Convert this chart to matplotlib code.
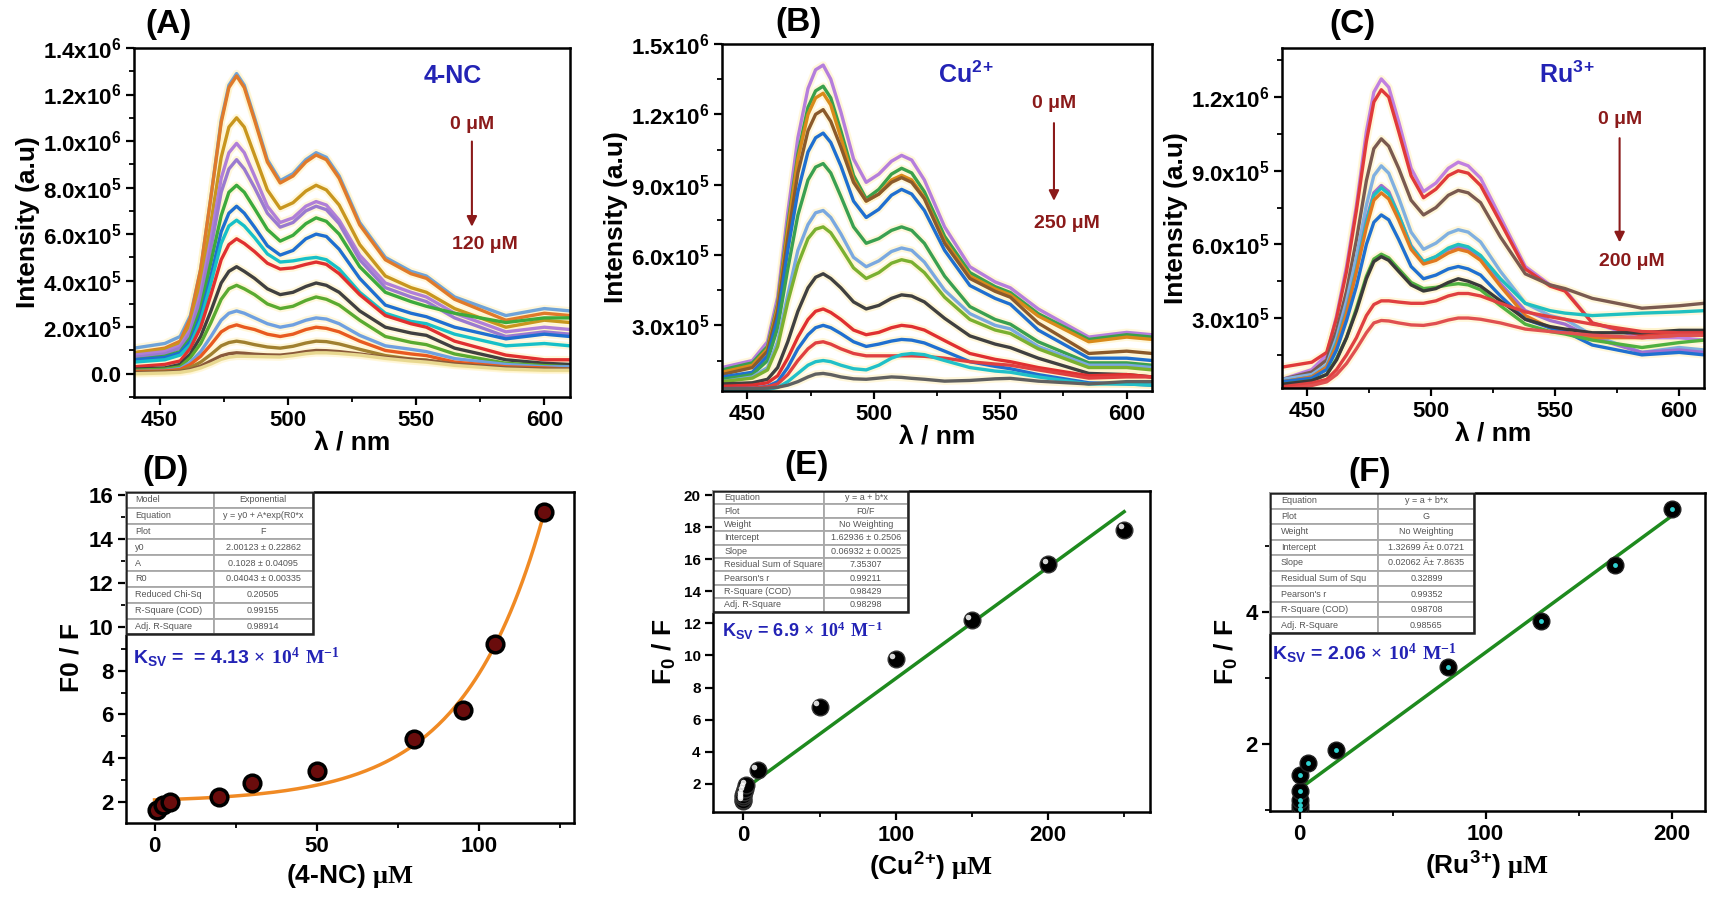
"""
Fluorescence quenching of the probe by 4-NC, Cu2+ and Ru3+
"""
import numpy as np
import matplotlib.pyplot as plt
from matplotlib.ticker import AutoMinorLocator, MultipleLocator
from matplotlib.transforms import offset_copy

plt.rcParams['font.family'] = ['Liberation Sans', 'DejaVu Sans']
plt.rcParams['font.weight'] = 'bold'
plt.rcParams['axes.labelweight'] = 'bold'
plt.rcParams['mathtext.default'] = 'regular'
plt.rcParams['mathtext.fontset'] = 'custom'
plt.rcParams['mathtext.rm'] = 'Liberation Serif'

FIG_W, FIG_H = 1719, 897

# emission spectra, intensity in units of 1e5
WAVELENGTH = [440, 452, 458, 462, 466, 470, 474, 477, 480, 483, 487, 492, 497,
              502, 507, 511, 515, 520, 528, 538, 548, 554, 565, 585, 600, 610]

SPEC_A = [
    [1.1, 1.3, 1.6, 2.5, 4.5, 7.6, 10.9, 12.4, 12.9, 12.4, 11.0, 9.2, 8.3, 8.6, 9.2, 9.5, 9.3, 8.5, 6.5, 5.0, 4.4, 4.2, 3.3, 2.5, 2.8, 2.7],
    [0.9, 1.1, 1.4, 2.4, 4.5, 7.6, 10.8, 12.3, 12.8, 12.3, 10.9, 9.1, 8.2, 8.5, 9.1, 9.4, 9.2, 8.4, 6.4, 4.9, 4.3, 4.1, 3.2, 2.3, 2.6, 2.5],
    [0.9, 1.05, 1.3, 2.1, 3.9, 6.5, 9.3, 10.6, 11.0, 10.6, 9.4, 7.9, 7.1, 7.35, 7.85, 8.1, 7.9, 7.25, 5.55, 4.2, 3.7, 3.5, 2.8, 2.0, 2.3, 2.2],
    [0.8, 0.95, 1.2, 1.9, 3.5, 5.8, 8.4, 9.5, 9.9, 9.5, 8.5, 7.2, 6.5, 6.7, 7.2, 7.4, 7.25, 6.6, 5.1, 3.9, 3.5, 3.3, 2.6, 1.8, 2.0, 1.9],
    [0.7, 0.85, 1.1, 1.75, 3.2, 5.4, 7.8, 8.8, 9.2, 8.8, 8.0, 6.9, 6.3, 6.5, 7.0, 7.2, 7.05, 6.45, 4.9, 3.7, 3.3, 3.1, 2.4, 1.6, 1.8, 1.7],
    [0.6, 0.75, 0.95, 1.55, 2.8, 4.8, 6.8, 7.8, 8.1, 7.8, 7.1, 6.2, 5.7, 5.95, 6.45, 6.7, 6.55, 6.0, 4.6, 3.5, 3.1, 2.9, 2.6, 2.2, 2.4, 2.4],
    [0.6, 0.7, 0.9, 1.4, 2.5, 4.2, 6.1, 6.9, 7.2, 6.9, 6.3, 5.5, 5.1, 5.3, 5.8, 6.0, 5.9, 5.35, 4.1, 2.95, 2.6, 2.45, 2.0, 1.5, 1.7, 1.6],
    [0.5, 0.6, 0.8, 1.25, 2.3, 3.9, 5.6, 6.35, 6.6, 6.35, 5.85, 5.15, 4.8, 4.85, 4.95, 5.0, 4.9, 4.5, 3.5, 2.6, 2.25, 2.15, 1.7, 1.2, 1.3, 1.2],
    [0.3, 0.4, 0.55, 1.1, 2.0, 3.4, 4.9, 5.55, 5.8, 5.6, 5.25, 4.75, 4.5, 4.55, 4.7, 4.8, 4.7, 4.3, 3.4, 2.5, 2.15, 2.0, 1.4, 0.8, 0.6, 0.6],
    [0.2, 0.25, 0.4, 0.85, 1.6, 2.7, 3.9, 4.4, 4.6, 4.4, 4.1, 3.65, 3.4, 3.5, 3.75, 3.9, 3.8, 3.5, 2.7, 2.0, 1.75, 1.65, 1.1, 0.6, 0.45, 0.4],
    [0.15, 0.2, 0.3, 0.7, 1.3, 2.2, 3.2, 3.65, 3.8, 3.65, 3.4, 3.0, 2.8, 2.9, 3.15, 3.3, 3.2, 2.95, 2.3, 1.6, 1.35, 1.25, 0.85, 0.45, 0.35, 0.3],
    [0.1, 0.14, 0.22, 0.5, 0.95, 1.6, 2.3, 2.6, 2.7, 2.6, 2.4, 2.15, 2.0, 2.1, 2.3, 2.4, 2.35, 2.15, 1.65, 1.2, 1.05, 0.95, 0.65, 0.4, 0.3, 0.3],
    [0.1, 0.12, 0.18, 0.4, 0.75, 1.25, 1.8, 2.0, 2.1, 2.0, 1.9, 1.7, 1.6, 1.7, 1.9, 2.0, 1.95, 1.8, 1.4, 1.0, 0.85, 0.78, 0.5, 0.3, 0.25, 0.2],
    [0.05, 0.08, 0.12, 0.27, 0.5, 0.83, 1.2, 1.34, 1.4, 1.35, 1.25, 1.15, 1.1, 1.18, 1.32, 1.4, 1.38, 1.28, 1.05, 0.78, 0.63, 0.58, 0.4, 0.25, 0.2, 0.2],
    [0.05, 0.07, 0.1, 0.18, 0.33, 0.55, 0.77, 0.86, 0.9, 0.88, 0.84, 0.81, 0.8, 0.86, 0.95, 1.0, 0.99, 0.95, 0.85, 0.7, 0.62, 0.58, 0.42, 0.25, 0.2, 0.2],
    [0.0, 0.03, 0.06, 0.13, 0.25, 0.42, 0.62, 0.71, 0.75, 0.75, 0.74, 0.73, 0.72, 0.78, 0.86, 0.9, 0.9, 0.87, 0.8, 0.66, 0.55, 0.5, 0.36, 0.2, 0.15, 0.15],
]
COLORS_A = ['#6fa3d8', '#e07a2a', '#c8961e', '#b07fd8', '#9a7ad0', '#3caa3c', '#1f6fd0', '#17c0c8',
            '#e03030', '#404040', '#5aaa30', '#6fa0e0', '#e85a20', '#a08030', '#8a5a3a', '#e8d890']

SPEC_B = [
    [1.2, 1.5, 2.3, 4.2, 7.8, 11.0, 13.1, 13.9, 14.1, 13.5, 12.1, 10.1, 9.1, 9.45, 10.0, 10.25, 10.05, 9.2, 7.2, 5.5, 4.85, 4.6, 3.7, 2.5, 2.7, 2.6],
    [1.1, 1.4, 2.1, 3.9, 7.3, 10.3, 12.3, 13.0, 13.2, 12.7, 11.3, 9.4, 8.4, 8.8, 9.45, 9.7, 9.5, 8.7, 6.8, 5.25, 4.65, 4.4, 3.5, 2.4, 2.6, 2.5],
    [1.0, 1.3, 2.0, 3.8, 7.1, 10.1, 12.0, 12.7, 12.9, 12.4, 11.0, 9.2, 8.3, 8.6, 9.2, 9.4, 9.2, 8.45, 6.6, 5.1, 4.55, 4.3, 3.4, 2.3, 2.5, 2.4],
    [0.9, 1.2, 1.9, 3.6, 6.7, 9.5, 11.3, 12.0, 12.2, 11.7, 10.6, 9.1, 8.3, 8.6, 9.1, 9.3, 9.1, 8.4, 6.5, 5.0, 4.45, 4.2, 3.1, 1.8, 1.9, 1.8],
    [0.8, 1.0, 1.7, 3.3, 6.2, 8.7, 10.4, 11.0, 11.2, 10.8, 9.8, 8.3, 7.6, 7.95, 8.55, 8.8, 8.6, 7.9, 6.2, 4.7, 4.15, 3.9, 2.8, 1.6, 1.6, 1.5],
    [0.7, 0.9, 1.5, 2.9, 5.4, 7.7, 9.2, 9.75, 9.9, 9.5, 8.5, 7.2, 6.5, 6.7, 7.05, 7.2, 7.05, 6.5, 5.1, 3.8, 3.25, 3.05, 2.3, 1.4, 1.4, 1.3],
    [0.6, 0.8, 1.2, 2.3, 4.3, 6.2, 7.3, 7.8, 7.9, 7.6, 6.9, 5.9, 5.5, 5.75, 6.15, 6.3, 6.2, 5.7, 4.5, 3.5, 3.0, 2.85, 2.1, 1.3, 1.3, 1.2],
    [0.6, 0.75, 1.1, 2.1, 4.0, 5.6, 6.7, 7.1, 7.2, 6.95, 6.3, 5.45, 5.0, 5.25, 5.65, 5.8, 5.7, 5.25, 4.2, 3.25, 2.8, 2.65, 2.0, 1.2, 1.2, 1.1],
    [0.5, 0.55, 0.7, 1.2, 2.3, 3.6, 4.6, 5.05, 5.2, 5.0, 4.6, 4.0, 3.7, 3.85, 4.15, 4.3, 4.25, 4.0, 3.3, 2.55, 2.2, 2.05, 1.6, 0.95, 0.9, 0.8],
    [0.4, 0.45, 0.55, 0.85, 1.6, 2.5, 3.25, 3.6, 3.7, 3.55, 3.25, 2.8, 2.6, 2.7, 2.9, 3.0, 2.95, 2.8, 2.35, 1.8, 1.55, 1.45, 1.2, 0.85, 0.9, 0.8],
    [0.3, 0.32, 0.4, 0.6, 1.2, 2.0, 2.6, 2.9, 3.0, 2.9, 2.65, 2.3, 2.1, 2.2, 2.33, 2.4, 2.37, 2.25, 1.9, 1.45, 1.25, 1.15, 0.9, 0.55, 0.5, 0.45],
    [0.3, 0.32, 0.38, 0.5, 0.9, 1.5, 2.0, 2.25, 2.3, 2.2, 2.0, 1.8, 1.7, 1.7, 1.7, 1.7, 1.7, 1.68, 1.6, 1.45, 1.35, 1.3, 1.1, 0.75, 0.8, 0.8],
    [0.2, 0.22, 0.26, 0.35, 0.6, 0.95, 1.3, 1.45, 1.5, 1.45, 1.3, 1.15, 1.1, 1.3, 1.6, 1.75, 1.8, 1.75, 1.5, 1.2, 1.05, 1.0, 0.8, 0.5, 0.5, 0.45],
    [0.3, 0.3, 0.32, 0.36, 0.45, 0.6, 0.8, 0.92, 0.95, 0.9, 0.8, 0.72, 0.7, 0.75, 0.8, 0.78, 0.74, 0.7, 0.62, 0.65, 0.72, 0.74, 0.62, 0.5, 0.6, 0.6],
]
COLORS_B = ['#b57edc', '#3aa04a', '#d98a1a', '#8b5a2b', '#1f6fd0', '#3aa050', '#7aa8e0', '#7ab030',
            '#404040', '#e03030', '#2070d0', '#e04040', '#20c0c8', '#606060']

SPEC_C = [
    [0.5, 0.9, 1.5, 3.1, 5.1, 7.6, 10.6, 12.2, 12.74, 12.4, 11.0, 9.1, 8.15, 8.5, 9.1, 9.35, 9.2, 8.7, 7.1, 5.1, 4.35, 4.15, 2.8, 2.2, 2.2, 2.1],
    [1.0, 1.2, 1.6, 3.0, 4.9, 7.4, 10.2, 11.8, 12.3, 12.0, 10.6, 8.8, 7.9, 8.25, 8.8, 9.0, 8.9, 8.4, 6.9, 5.0, 4.3, 4.1, 2.8, 2.3, 2.4, 2.4],
    [0.5, 0.8, 1.3, 2.5, 4.1, 6.2, 8.6, 9.9, 10.3, 10.0, 9.1, 7.8, 7.2, 7.5, 8.0, 8.2, 8.1, 7.7, 6.3, 4.8, 4.35, 4.2, 3.8, 3.4, 3.5, 3.6],
    [0.5, 0.7, 1.1, 2.2, 3.7, 5.5, 7.6, 8.8, 9.2, 8.9, 7.9, 6.5, 5.8, 6.05, 6.45, 6.6, 6.5, 6.1, 4.9, 3.6, 3.1, 2.95, 2.3, 1.6, 1.8, 1.7],
    [0.4, 0.6, 1.0, 2.0, 3.4, 5.0, 7.0, 8.1, 8.4, 8.15, 7.2, 5.95, 5.3, 5.5, 5.8, 5.9, 5.8, 5.45, 4.4, 3.3, 2.9, 2.75, 2.2, 1.6, 1.7, 1.6],
    [0.4, 0.6, 1.0, 2.0, 3.3, 5.0, 6.9, 8.0, 8.3, 8.05, 7.2, 5.9, 5.3, 5.5, 5.85, 6.0, 5.9, 5.55, 4.6, 3.6, 3.3, 3.2, 3.1, 3.2, 3.25, 3.3],
    [0.4, 0.6, 1.0, 1.9, 3.2, 4.9, 6.7, 7.8, 8.1, 7.85, 7.0, 5.8, 5.2, 5.35, 5.65, 5.8, 5.7, 5.35, 4.3, 3.1, 2.6, 2.45, 2.2, 2.2, 2.3, 2.3],
    [0.4, 0.55, 0.9, 1.7, 2.9, 4.3, 6.0, 6.9, 7.2, 7.0, 6.2, 5.1, 4.6, 4.75, 5.0, 5.1, 5.0, 4.75, 3.9, 2.95, 2.6, 2.45, 1.9, 1.5, 1.6, 1.5],
    [0.3, 0.45, 0.7, 1.35, 2.2, 3.4, 4.7, 5.4, 5.6, 5.45, 5.0, 4.45, 4.2, 4.25, 4.35, 4.4, 4.35, 4.15, 3.5, 2.75, 2.45, 2.35, 2.1, 1.8, 2.0, 2.1],
    [0.3, 0.45, 0.7, 1.3, 2.2, 3.3, 4.6, 5.3, 5.5, 5.35, 4.9, 4.35, 4.1, 4.2, 4.45, 4.6, 4.5, 4.3, 3.7, 2.95, 2.65, 2.55, 2.4, 2.4, 2.5, 2.5],
    [0.2, 0.35, 0.5, 0.9, 1.5, 2.2, 3.1, 3.55, 3.7, 3.7, 3.65, 3.6, 3.6, 3.7, 3.9, 4.0, 4.0, 3.9, 3.6, 3.25, 3.05, 2.95, 2.75, 2.45, 2.4, 2.4],
    [0.1, 0.25, 0.4, 0.7, 1.15, 1.75, 2.4, 2.8, 2.9, 2.88, 2.8, 2.72, 2.7, 2.78, 2.92, 3.0, 3.0, 2.95, 2.8, 2.55, 2.45, 2.4, 2.3, 2.2, 2.3, 2.3],
]
COLORS_C = ['#c080e0', '#e03a3a', '#7a5a50', '#80b0e0', '#a070d0', '#20c0c0', '#e07820', '#2070d0',
            '#50b040', '#3a3a3a', '#e04040', '#e05050']

# Stern-Volmer data
CONC_D = [0.8, 2.5, 4.8, 20, 30, 50, 80, 95, 105, 120]
F0F_D = [1.65, 1.88, 2.03, 2.23, 2.87, 3.4, 4.9, 6.2, 9.23, 15.25]
FIT_D = (2.00123, 0.1028, 0.04043)   # y0, A, R0

CONC_E = [0, 0, 0, 0, 0.5, 1, 2, 9.3, 50, 100, 150, 200, 250]
F0F_E = [0.9, 1.0, 1.15, 1.3, 1.5, 1.7, 1.9, 2.83, 6.8, 9.76, 12.2, 15.67, 17.84]
FIT_E = (1.62936, 0.06932)   # intercept, slope

CONC_F = [0, 0, 0, 0, 0, 4.6, 19.6, 79.8, 129.9, 169.7, 200]
F0F_F = [1.02, 1.08, 1.15, 1.29, 1.53, 1.71, 1.91, 3.17, 3.86, 4.71, 5.56]
FIT_F = (1.32699, 0.02062)

TABLE_D = [["Model", "Exponential"], ["Equation", "y = y0 + A*exp(R0*x"], ["Plot", "F"],
           ["y0", "2.00123 ± 0.22862"], ["A", "0.1028 ± 0.04095"], ["R0", "0.04043 ± 0.00335"],
           ["Reduced Chi-Sq", "0.20505"], ["R-Square (COD)", "0.99155"], ["Adj. R-Square", "0.98914"]]
TABLE_E = [["Equation", "y = a + b*x"], ["Plot", "F0/F"], ["Weight", "No Weighting"],
           ["Intercept", "1.62936 ± 0.2506"], ["Slope", "0.06932 ± 0.0025"],
           ["Residual Sum of Squares", "7.35307"], ["Pearson's r", "0.99211"],
           ["R-Square (COD)", "0.98429"], ["Adj. R-Square", "0.98298"]]
TABLE_F = [["Equation", "y = a + b*x"], ["Plot", "G"], ["Weight", "No Weighting"],
           ["Intercept", "1.32699 Â± 0.0721"], ["Slope", "0.02062 Â± 7.8635"],
           ["Residual Sum of Squ", "0.32899"], ["Pearson's r", "0.99352"],
           ["R-Square (COD)", "0.98708"], ["Adj. R-Square", "0.98565"]]

DARKRED = '#8b1a1a'
BLUE = '#2323b5'
UNIT = r"$\mathrm{\mu M}$"


def box(left, right, top, bottom):
    """axes rectangle from pixel edges"""
    return [left / FIG_W, 1 - bottom / FIG_H, (right - left) / FIG_W, (bottom - top) / FIG_H]


def style_axes(ax, size=16):
    for s in ax.spines.values():
        s.set_linewidth(1.8)
    ax.tick_params(direction='out', length=6, width=1.6, labelsize=size, top=False, right=False, pad=3)
    ax.tick_params(which='minor', direction='out', length=3.5, width=1.3, top=False, right=False)


def spectra_panel(ax, spectra, colors, yticks, ylabels, ylim, ion, conc_hi, pos):
    x = np.array(WAVELENGTH)
    for row, c in zip(spectra, colors):
        y = np.array(row) * 1e5
        ax.plot(x, y, color='#fff3c4', lw=5.5, alpha=0.6, zorder=1, solid_joinstyle='round')
        ax.plot(x, y, color=c, lw=2.4, zorder=2, solid_joinstyle='round')
    ax.set_xlim(440, 610)
    ax.set_ylim(*ylim)
    ax.set_xticks([450, 500, 550, 600])
    ax.xaxis.set_minor_locator(MultipleLocator(25))
    ax.set_yticks(yticks)
    ax.set_yticklabels(ylabels)
    ax.yaxis.set_minor_locator(AutoMinorLocator(2))
    style_axes(ax, 16)
    ax.set_xlabel("λ / nm", fontsize=19, labelpad=0)
    ax.set_ylabel("Intensity (a.u)", fontsize=19, labelpad=2)
    ax.text(pos[0], pos[1], ion, transform=ax.transAxes, color=BLUE, fontsize=18, ha='center', va='center')
    ax.text(pos[2], pos[3], "0 μM", transform=ax.transAxes, color=DARKRED, fontsize=14, ha='center', va='center')
    ax.annotate("", xy=(pos[2], pos[5]), xytext=(pos[2], pos[4]), xycoords='axes fraction',
                arrowprops=dict(arrowstyle='-|>', color=DARKRED, lw=1.5, mutation_scale=15))
    ax.text(pos[2] + 0.03, pos[6], conc_hi, transform=ax.transAxes, color=DARKRED, fontsize=14,
            ha='center', va='center')


def fit_table(ax, rows, width, height, colw):
    tb = ax.table(cellText=rows, bbox=[0, 1 - height, width, height], colWidths=[colw, 1 - colw],
                  cellLoc='left', zorder=5)
    tb.auto_set_font_size(False)
    for (r, c), cell in tb.get_celld().items():
        cell.set_edgecolor('#a8a8a8')
        cell.set_linewidth(1.3)
        cell.get_text().set_fontsize(6.5)
        cell.get_text().set_color('#555555')
        cell.get_text().set_fontweight('normal')
        if c == 1:
            cell.get_text().set_horizontalalignment('center')
            cell._loc = 'center'
    ax.add_patch(plt.Rectangle((0, 1 - height), width, height, transform=ax.transAxes, fill=False,
                               ec='#222222', lw=1.8, zorder=6))


def ksv_text(ax, x, y, value, size):
    ax.text(x, y, "K$_{SV}$ = " + value + r" $\mathrm{\times\ 10^{4}\ M^{-1}}$", transform=ax.transAxes,
            color=BLUE, fontsize=size, va='center')


def main():
    fig = plt.figure(figsize=(FIG_W / 100, FIG_H / 100), dpi=100)

    axA = fig.add_axes(box(134, 570, 48, 397))
    axB = fig.add_axes(box(722, 1152, 44, 391))
    axC = fig.add_axes(box(1282, 1704, 48, 388))
    axD = fig.add_axes(box(126, 574, 492, 823))
    axE = fig.add_axes(box(713, 1150, 491, 812))
    axF = fig.add_axes(box(1270, 1705, 493, 811))

    ya = [0, 2e5, 4e5, 6e5, 8e5, 1e6, 1.2e6, 1.4e6]
    la = ["0.0", "2.0x10$^5$", "4.0x10$^5$", "6.0x10$^5$", "8.0x10$^5$", "1.0x10$^6$", "1.2x10$^6$", "1.4x10$^6$"]
    spectra_panel(axA, SPEC_A, COLORS_A, ya, la, (-1e5, 1.4e6), "4-NC", "120 μM",
                  (0.73, 0.92, 0.775, 0.78, 0.74, 0.48, 0.436))
    yb = [3e5, 6e5, 9e5, 1.2e6, 1.5e6]
    lb = ["3.0x10$^5$", "6.0x10$^5$", "9.0x10$^5$", "1.2x10$^6$", "1.5x10$^6$"]
    spectra_panel(axB, SPEC_B, COLORS_B, yb, lb, (2e4, 1.5e6), "Cu$^{2}$$^{+}$", "250 μM",
                  (0.567, 0.91, 0.772, 0.828, 0.78, 0.54, 0.483))
    yc = [3e5, 6e5, 9e5, 1.2e6]
    lc = ["3.0x10$^5$", "6.0x10$^5$", "9.0x10$^5$", "1.2x10$^6$"]
    spectra_panel(axC, SPEC_C, COLORS_C, yc, lc, (1.5e4, 1.4e6), "Ru$^{3}$$^{+}$", "200 μM",
                  (0.674, 0.92, 0.80, 0.79, 0.743, 0.42, 0.372))

    # (D) exponential fit
    xf = np.linspace(0, 120, 200)
    y0, A, R0 = FIT_D
    axD.plot(xf, y0 + A * np.exp(R0 * xf), color='#f08a24', lw=2.5, zorder=2)
    axD.plot(CONC_D, F0F_D, 'o', ms=12, mfc='#6a0c0c', mec='black', mew=2.5, zorder=3)
    axD.set_xlim(-8.8, 129.3)
    axD.set_ylim(1.05, 16.15)
    axD.set_xticks([0, 50, 100])
    axD.xaxis.set_minor_locator(MultipleLocator(25))
    axD.set_yticks(range(2, 17, 2))
    axD.yaxis.set_minor_locator(MultipleLocator(1))
    style_axes(axD, 16)
    axD.set_xlabel("(4-NC) " + UNIT, fontsize=19)
    axD.set_ylabel("F0 / F", fontsize=19)
    fit_table(axD, TABLE_D, 0.417, 0.43, 0.47)
    ksv_text(axD, 0.015, 0.50, " = 4.13", 14)

    # (E) linear fit Cu2+
    xe = np.array([0, 250])
    axE.plot(xe, FIT_E[0] + FIT_E[1] * xe, color='#1e8a1e', lw=2.5, zorder=2)
    axE.plot(CONC_E, F0F_E, 'o', ms=12, mfc='black', mec='#333333', mew=1, zorder=3)
    hl = offset_copy(axE.transData, fig=fig, x=-2.5, y=2.5, units='points')
    axE.plot(CONC_E, F0F_E, 'o', ms=4, mfc='white', mec='none', alpha=0.85, transform=hl, zorder=4)
    axE.set_xlim(-20, 267)
    axE.set_ylim(0.24, 20.25)
    axE.set_xticks([0, 100, 200])
    axE.xaxis.set_minor_locator(MultipleLocator(50))
    axE.set_yticks(range(2, 21, 2))
    style_axes(axE, 16)
    axE.tick_params(axis='y', labelsize=11)
    axE.set_xlabel("(Cu$^{2}$$^{+}$) " + UNIT, fontsize=19)
    axE.set_ylabel("F$_0$ / F", fontsize=19)
    fit_table(axE, TABLE_E, 0.446, 0.376, 0.57)
    ksv_text(axE, 0.02, 0.564, "6.9", 13)

    # (F) linear fit Ru3+
    xr = np.array([0, 200])
    axF.plot(xr, FIT_F[0] + FIT_F[1] * xr, color='#1e8a1e', lw=2.5, zorder=2)
    axF.plot(CONC_F, F0F_F, 'o', ms=12, mfc='black', mec='#222222', mew=1, zorder=3)
    axF.plot(CONC_F, F0F_F, 'o', ms=3.5, mfc='#30d0d0', mec='none', zorder=4)
    axF.set_xlim(-16, 218)
    axF.set_ylim(0.99, 5.8)
    axF.set_xticks([0, 100, 200])
    axF.xaxis.set_minor_locator(MultipleLocator(50))
    axF.set_yticks([2, 4])
    axF.yaxis.set_minor_locator(MultipleLocator(1))
    style_axes(axF, 16)
    axF.set_xlabel("(Ru$^{3}$$^{+}$) " + UNIT, fontsize=19)
    axF.set_ylabel("F$_0$ / F", fontsize=19)
    fit_table(axF, TABLE_F, 0.47, 0.44, 0.53)
    ksv_text(axF, 0.005, 0.495, "2.06", 14)

    for lab, (px, py) in zip("ABCDEF", [(168, 25), (798, 23), (1352, 25), (165, 470), (807, 465), (1370, 472)]):
        fig.text(px / FIG_W, 1 - py / FIG_H, f"({lab})", fontsize=24, ha='center', va='center')

    fig.savefig('out.png', dpi=100)
    plt.close(fig)


if __name__ == '__main__':
    main()
